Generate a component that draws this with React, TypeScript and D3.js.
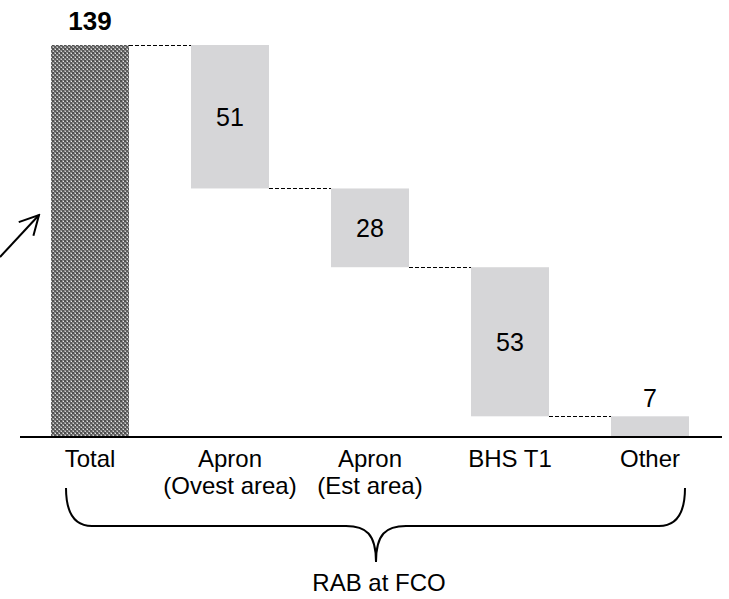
import React from "react";
import * as d3 from "d3";

const categories = ["Total", "Apron (Ovest area)", "Apron (Est area)", "BHS T1", "Other"];
const labelLines = [["Total"], ["Apron", "(Ovest area)"], ["Apron", "(Est area)"], ["BHS T1"], ["Other"]];
const values = [139, 51, 28, 53, 7];
const groupLabel = "RAB at FCO";

const W = 729;
const H = 599;
const FONT = "Arial, 'Liberation Sans', sans-serif";

export default function App() {
  const x = d3
    .scaleBand<string>()
    .domain(categories)
    .range([20, 720])
    .paddingInner(0.443)
    .paddingOuter(0.2215);
  const y = d3.scaleLinear().domain([0, 139]).range([436, 45]);
  const bw = x.bandwidth();

  // waterfall: total from 0, then components descending from the total
  const bars = categories.map((c, i) => {
    if (i === 0) return { c, v: values[i], y0: 0, y1: values[i], total: true };
    const before = values[0] - d3.sum(values.slice(1, i));
    return { c, v: values[i], y0: before - values[i], y1: before, total: false };
  });

  const cx = (c: string) => (x(c) as number) + bw / 2;
  const braceL = cx(categories[0]) - 24;
  const braceR = cx(categories[categories.length - 1]) + 35;
  const braceM = (braceL + braceR) / 2 + 0.5;
  const bTop = 488;
  const bMid = 526;
  const bTip = 562;
  const bracePath = `M${braceL},${bTop} C${braceL},${bMid - 14} ${braceL + 8},${bMid} ${braceL + 26},${bMid}
    L${braceM - 30},${bMid} C${braceM - 10},${bMid} ${braceM},${bMid + 8} ${braceM},${bTip}
    C${braceM},${bMid + 8} ${braceM + 10},${bMid} ${braceM + 30},${bMid}
    L${braceR - 26},${bMid} C${braceR - 8},${bMid} ${braceR},${bMid - 14} ${braceR},${bTop}`;

  return (
    <svg width={W} height={H} style={{ position: "absolute", left: 0, top: 0, background: "#fff" }} fontFamily={FONT}>
      <defs>
        <pattern id="checker" width="4" height="4" patternUnits="userSpaceOnUse">
          <rect width="4" height="4" fill="#8c8c8c" />
          <rect x="0" y="0" width="2" height="2" fill="#4f4f4f" />
          <rect x="2" y="2" width="2" height="2" fill="#5a5a5a" />
          <rect x="3" y="1" width="1" height="1" fill="#e6e6e6" />
          <rect x="1" y="3" width="1" height="1" fill="#d0d0d0" />
        </pattern>
        <marker id="arrowhead" viewBox="0 0 22 22" refX="20" refY="11" markerWidth="22" markerHeight="22" markerUnits="userSpaceOnUse" orient="auto">
          <path d="M1,1 L20,11 L1,21" fill="none" stroke="#000" strokeWidth="2" strokeLinejoin="miter" />
        </marker>
      </defs>

      {/* connectors */}
      {bars.slice(0, -1).map((b, i) => {
        const next = bars[i + 1];
        const level = next.y1;
        return (
          <line
            key={"c" + i}
            x1={(x(b.c) as number) + bw}
            x2={x(next.c) as number}
            y1={Math.round(y(level)) + 0.5}
            y2={Math.round(y(level)) + 0.5}
            stroke="#000"
            strokeWidth={1}
            strokeDasharray="4,2"
          />
        );
      })}

      {/* bars */}
      {bars.map((b) => (
        <rect
          key={b.c}
          x={x(b.c)}
          y={y(b.y1)}
          width={bw}
          height={y(b.y0) - y(b.y1)}
          fill={b.total ? "url(#checker)" : "#d6d6d8"}
        />
      ))}

      {/* baseline */}
      <line x1={20} x2={722} y1={437} y2={437} stroke="#000" strokeWidth={2} />

      {/* value labels */}
      {bars.map((b, i) => {
        const h = y(b.y0) - y(b.y1);
        if (b.total)
          return (
            <text key={"v" + i} x={cx(b.c)} y={y(b.y1) - 15} textAnchor="middle" fontSize={26} fontWeight="bold" fill="#000">
              {b.v}
            </text>
          );
        if (h < 40)
          return (
            <text key={"v" + i} x={cx(b.c)} y={y(b.y1) - 9} textAnchor="middle" fontSize={25} fill="#000">
              {b.v}
            </text>
          );
        return (
          <text key={"v" + i} x={cx(b.c)} y={(y(b.y0) + y(b.y1)) / 2 + 9} textAnchor="middle" fontSize={25} fill="#000">
            {b.v}
          </text>
        );
      })}

      {/* category labels */}
      {categories.map((c, i) => (
        <text key={"l" + i} x={cx(c)} y={467} textAnchor="middle" fontSize={24} fill="#000">
          {labelLines[i].map((ln, j) => (
            <tspan key={j} x={cx(c)} dy={j === 0 ? 0 : 27}>
              {ln}
            </tspan>
          ))}
        </text>
      ))}

      {/* brace */}
      <path d={bracePath} fill="none" stroke="#000" strokeWidth={2} />
      <text x={braceM + 3} y={591} textAnchor="middle" fontSize={24} fill="#000">
        {groupLabel}
      </text>

      {/* arrow */}
      <line x1={0} y1={257} x2={39} y2={215} stroke="#000" strokeWidth={2} markerEnd="url(#arrowhead)" />
    </svg>
  );
}
